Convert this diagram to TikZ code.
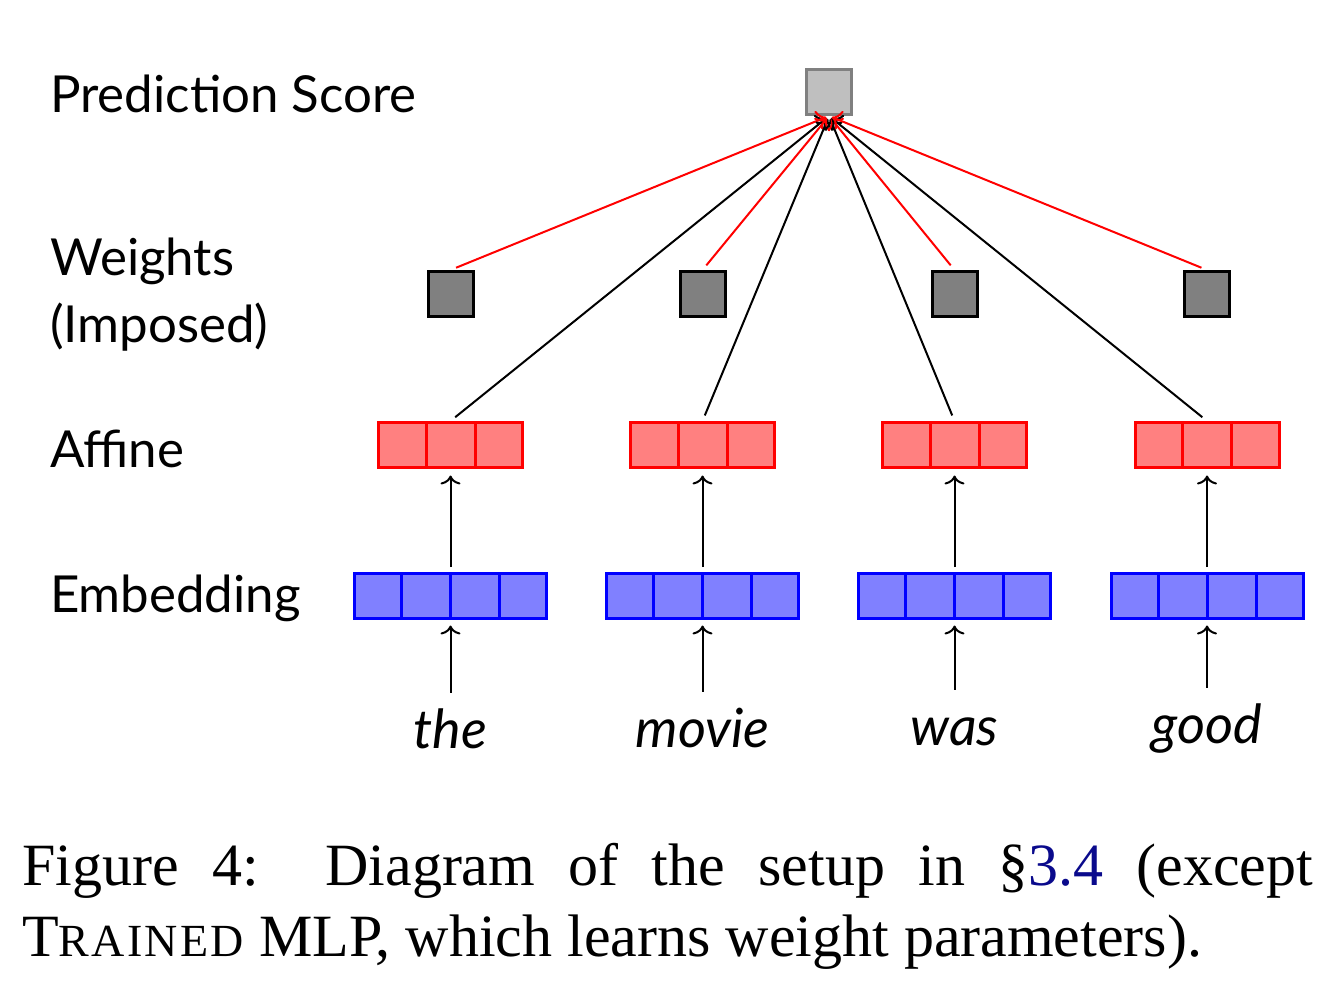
\documentclass[tikz,border=0pt]{standalone}
\usepackage{fontspec}
\setmainfont{Liberation Serif}
\newfontfamily\lblfont{Lato}
\usetikzlibrary{arrows.meta}
\definecolor{linkblue}{RGB}{10,10,140}
\begin{document}
\begin{tikzpicture}[x=1pt,y=-1pt,
  lbl/.style={font=\lblfont\fontsize{51}{67}\selectfont, anchor=base west, inner sep=0pt, align=left},
  word/.style={font=\lblfont\itshape\fontsize{54}{60}\selectfont, anchor=base, inner sep=0pt, text height=46pt},
  predbox/.style={draw=gray, fill=gray!50, line width=3pt, minimum size=45pt, inner sep=0pt},
  wtbox/.style={draw=black, fill=gray, line width=3pt, minimum size=45pt, inner sep=0pt},
  affbox/.style={draw=red, fill=red!50, line width=3pt, minimum width=144pt, minimum height=45pt, inner sep=0pt},
  embbox/.style={draw=blue, fill=blue!50, line width=3pt, minimum width=192pt, minimum height=45pt, inner sep=0pt},
  conn/.style={line width=2pt, -{To[length=9pt,width=20pt]}},
  capfont/.style={font=\fontsize{60}{71}\selectfont, anchor=base west, inner sep=0pt}
]
\useasboundingbox (0,0) rectangle (1333,1000);

% row labels
\node[lbl] (lpred) at (50,113) {Prediction Score};
\node[lbl] (lwt) at (50,342) {Weights\\(Imposed)};
\node[lbl] (laff) at (50,467) {Affine};
\node[lbl] (lemb) at (50,612) {Embedding};

% prediction
\node[predbox] (p) at (829,92) {};

\foreach \i/\x/\w/\b in {1/450.5/the/748, 2/702.5/movie/747, 3/954.5/was/745, 4/1207/good/743}{
  \node[wtbox] (wt\i) at (\x,294) {};
  \node[affbox] (a\i) at (\x,445) {};
  \draw[red, line width=3pt] ([xshift=-24.5pt]a\i.north) -- ([xshift=-24.5pt]a\i.south)
                             ([xshift=24.5pt]a\i.north) -- ([xshift=24.5pt]a\i.south);
  \node[embbox] (e\i) at (\x,596) {};
  \draw[blue, line width=3pt] ([xshift=-49pt]e\i.north) -- ([xshift=-49pt]e\i.south)
                              (e\i.north) -- (e\i.south)
                              ([xshift=49pt]e\i.north) -- ([xshift=49pt]e\i.south);
  \node[word] (w\i) at (\x,\b) {\w};
  \draw[conn, shorten <=9pt, shorten >=5.5pt] (w\i.north) -- (e\i.south);
  \draw[conn, shorten <=5pt, shorten >=6.5pt] (e\i.north) -- (a\i.south);
  \draw[conn, shorten <=6pt, shorten >=3pt] (a\i.north) -- (p.south);
  \draw[conn, red, shorten <=6pt, shorten >=3pt] (wt\i.north) -- (p.south);
}

% caption
\node[capfont] (cap1) at (22,885) {\makebox[1291pt][s]{Figure 4:\ \ Diagram of the setup in \S\textcolor{linkblue}{3.4} (except}};
\node[capfont] (cap2) at (22,956) {T{\fontsize{46}{54}\selectfont\addfontfeature{LetterSpace=5}RAINED} MLP, which learns weight parameters).};
\end{tikzpicture}
\end{document}
